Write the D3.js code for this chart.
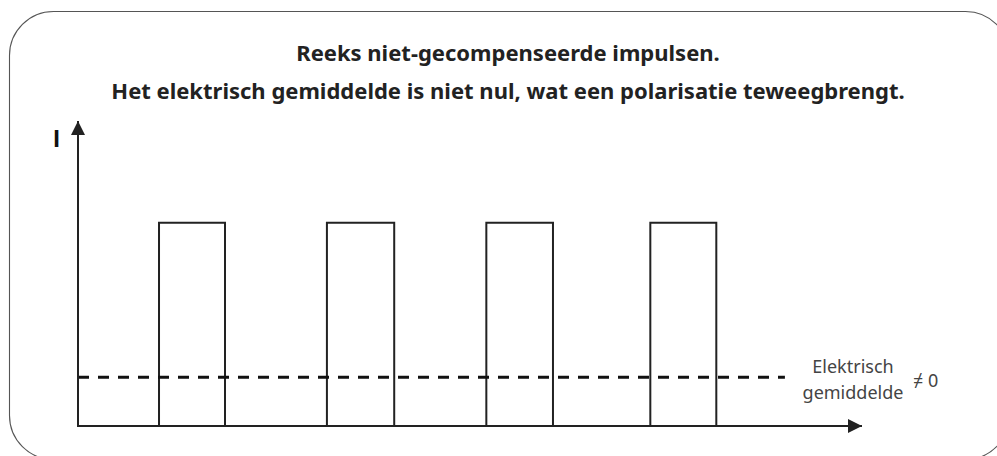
<!DOCTYPE html>
<html>
<head>
<meta charset="utf-8">
<script src="https://cdn.jsdelivr.net/npm/d3@7"></script>
<style>
  html, body { margin: 0; padding: 0; background: #fff; }
  svg { display: block; }
</style>
</head>
<body>
<svg id="chart" width="997" height="456"></svg>
<script>
// Pulse train: start / end times of each current pulse (ms)
const pulseStart = [1.24, 3.81, 6.25, 8.76];
const pulseEnd   = [2.25, 4.84, 7.27, 9.77];
const pulseAmplitude = 1.0;
// Electrical mean of the train (non-zero) and how far its line runs
const meanLevel = 0.24;
const meanEnd = 10.82;
// Axis extents
const timeMax = 12;
const currentMax = 1.5;

const titleLines = [
  "Reeks niet-gecompenseerde impulsen.",
  "Het elektrisch gemiddelde is niet nul, wat een polarisatie teweegbrengt."
];
const axisLabel = "I";
const meanLabel = ["Elektrisch", "gemiddelde"];
const meanSuffix = "\u2260 0";

const svg = d3.select("#chart");
const ink = "#222";

// Rounded frame
svg.append("rect")
  .attr("x", 9.5).attr("y", 11.5)
  .attr("width", 1000).attr("height", 448)
  .attr("rx", 44).attr("ry", 44)
  .attr("fill", "none").attr("stroke", "#555").attr("stroke-width", 1.1);

// Title
svg.selectAll("text.title")
  .data(titleLines)
  .join("text")
  .attr("class", "title")
  .attr("x", 508)
  .attr("y", (d, i) => 61 + i * 38)
  .attr("text-anchor", "middle")
  .attr("font-family", "'Noto Sans', sans-serif")
  .attr("font-weight", "bold")
  .attr("font-size", 22)
  .attr("fill", "#222")
  .text(d => d);

const x = d3.scaleLinear().domain([0, timeMax]).range([78, 862]);
const y = d3.scaleLinear().domain([0, currentMax]).range([426, 121]);

// Arrow heads
const defs = svg.append("defs");
defs.append("marker")
  .attr("id", "arrow")
  .attr("viewBox", "0 0 10 10")
  .attr("refX", 10).attr("refY", 5)
  .attr("markerWidth", 14).attr("markerHeight", 14)
  .attr("markerUnits", "userSpaceOnUse")
  .attr("orient", "auto")
  .append("path")
  .attr("d", "M0,0 L10,5 L0,10 Z")
  .attr("fill", ink);

// Pulses (drawn first so axes sit on top)
const pulses = pulseStart.map((s, i) => ({ s, e: pulseEnd[i] }));
const pulseLine = d3.line().x(d => x(d[0])).y(d => y(d[1]));
svg.selectAll("path.pulse")
  .data(pulses)
  .join("path")
  .attr("class", "pulse")
  .attr("d", p => pulseLine([[p.s, 0], [p.s, pulseAmplitude], [p.e, pulseAmplitude], [p.e, 0]]))
  .attr("fill", "none")
  .attr("stroke", ink)
  .attr("stroke-width", 2);

// Electrical mean (dashed)
svg.append("line")
  .attr("x1", x(0)).attr("x2", x(meanEnd))
  .attr("y1", y(meanLevel)).attr("y2", y(meanLevel))
  .attr("stroke", "#111")
  .attr("stroke-width", 3)
  .attr("stroke-dasharray", "11 9");

// Axes
svg.append("line")
  .attr("x1", x(0)).attr("y1", y(0))
  .attr("x2", x(0)).attr("y2", y(currentMax))
  .attr("stroke", ink).attr("stroke-width", 2)
  .attr("marker-end", "url(#arrow)");
svg.append("line")
  .attr("x1", x(0) - 1).attr("y1", y(0))
  .attr("x2", x(timeMax)).attr("y2", y(0))
  .attr("stroke", ink).attr("stroke-width", 2)
  .attr("marker-end", "url(#arrow)");

// Axis label
svg.append("text")
  .attr("x", 56.5).attr("y", 147)
  .attr("text-anchor", "middle")
  .attr("font-family", "'Open Sans', sans-serif")
  .attr("font-weight", "bold")
  .attr("font-size", 23)
  .attr("fill", "#111")
  .text(axisLabel);

// Mean label
const lbl = svg.append("text")
  .attr("font-family", "'Noto Sans', sans-serif")
  .attr("font-size", 18)
  .attr("fill", "#444")
  .attr("text-anchor", "middle");
lbl.selectAll("tspan")
  .data(meanLabel)
  .join("tspan")
  .attr("x", 853)
  .attr("y", (d, i) => 373 + i * 26)
  .text(d => d);
svg.append("text")
  .attr("x", 913).attr("y", 387)
  .attr("font-family", "'Noto Sans', sans-serif")
  .attr("font-size", 18)
  .attr("fill", "#444")
  .text(meanSuffix);
</script>
</body>
</html>
